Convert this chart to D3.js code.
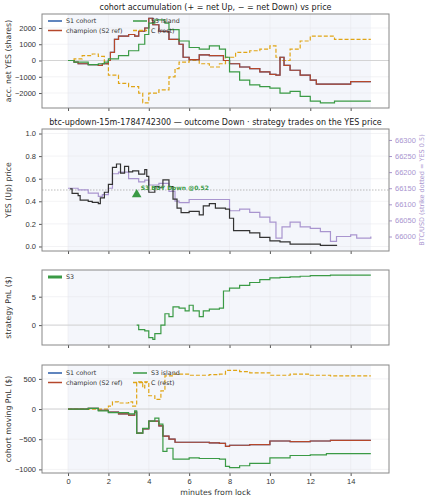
<!DOCTYPE html>
<html><head><meta charset="utf-8">
<script src="https://cdn.jsdelivr.net/npm/d3@7"></script>
<style>body{margin:0;background:#fff;font-family:"DejaVu Sans",sans-serif}</style>
</head><body><div id="chart"></div>
<script>
// ---- data (minutes from lock, value) ----
const accChampion = [[0,0],[0.3,-100],[0.5,-200],[1,-250],[1.5,-300],[1.7,-200],[2,0],[2.1,500],[2.3,1300],[2.5,1500],[3,1600],[3.3,1500],[3.5,1800],[3.8,2000],[4,2600],[4.2,2200],[4.5,1800],[5,1300],[5.5,1000],[5.7,200],[6,50],[6.5,350],[7,300],[7.5,300],[7.7,0],[8,-200],[8.5,-400],[9,-500],[9.5,-700],[10,-850],[10.3,-900],[10.5,200],[10.7,-300],[11,-600],[11.5,-900],[12,-1200],[12.3,-1450],[13,-1450],[14,-1300],[15,-1300]];
const accIsland = [[0,0],[0.3,-100],[1,-250],[1.5,-200],[1.8,-100],[2,100],[2.5,300],[3,600],[3.5,1000],[3.8,1600],[4,2300],[4.3,2500],[4.8,2300],[5,1900],[5.5,1200],[6,800],[6.5,700],[7,900],[7.5,700],[7.8,200],[8,-700],[8.5,-1200],[9,-1500],[9.5,-1600],[10,-1700],[10.5,-2000],[11,-1900],[11.5,-2200],[12,-2500],[12.5,-2600],[13,-2600],[13.2,-2500],[15,-2500]];
const accRest = [[0,0],[0.3,100],[0.7,300],[1.2,400],[1.5,250],[1.8,-200],[2,-900],[2.5,-1400],[3,-1600],[3.5,-2000],[3.7,-2600],[4,-2000],[4.5,-1800],[5,-1000],[5.3,-500],[5.5,-100],[6,0],[6.5,-200],[7,-400],[7.5,-200],[7.8,200],[8.3,500],[9,600],[9.5,700],[10,900],[10.3,200],[10.5,0],[11,700],[11.5,1200],[12,1500],[13,1500],[13.2,1300],[15,1300]];
const yesPrice = [[0.1,0.51],[0.2,0.47],[0.5,0.45],[0.6,0.41],[1,0.40],[1.2,0.39],[1.5,0.38],[1.6,0.43],[1.8,0.48],[2,0.55],[2.2,0.70],[2.4,0.73],[2.6,0.65],[2.8,0.71],[3,0.66],[3.2,0.67],[3.5,0.64],[3.8,0.68],[3.9,0.62],[4,0.48],[4.3,0.53],[4.5,0.52],[4.7,0.59],[5,0.53],[5.2,0.42],[5.4,0.34],[5.6,0.30],[6,0.31],[6.5,0.28],[6.7,0.36],[7,0.38],[7.3,0.34],[7.8,0.33],[8,0.25],[8.2,0.14],[8.5,0.14],[9,0.12],[9.5,0.08],[10,0.05],[10.5,0.04],[11,0.02],[12,0.02],[12.5,0.01],[13.3,0.005]];
const btcPrice = [[0,66150],[0.5,66145],[1,66135],[1.5,66125],[1.7,66130],[2,66150],[2.2,66195],[2.5,66200],[3,66180],[3.5,66170],[3.8,66175],[4,66160],[4.5,66165],[5,66140],[5.3,66110],[5.5,66105],[6,66115],[7,66115],[7.7,66115],[8,66080],[8.5,66085],[9,66075],[9.5,66060],[10,66045],[10.3,65995],[10.6,66030],[11,66045],[11.5,66030],[12,66025],[12.5,66015],[13,65985],[13.3,66000],[14,66005],[14.3,65995],[15,66000]];
const trade = {t:3.4, price:0.46, label:"S3 BUY Down @0.52"};
const s3Pnl = [[3.4,0],[3.5,-0.8],[3.8,-1],[4,-2.2],[4.2,-2.5],[4.3,-1.5],[4.5,-1.5],[4.6,0],[4.8,2],[5,1.5],[5.2,3.2],[5.5,3],[5.8,2.5],[6,3.5],[6.2,2.5],[6.5,1.5],[6.7,2.5],[7,2.8],[7.5,3],[7.7,6],[8,6.5],[8.5,7],[9,7.5],[9.5,8],[10,8.3],[10.5,8.4],[11,8.5],[11.5,8.6],[12,8.7],[13,8.8],[15,8.8]];
const pnlChampion = [[0,0],[1,10],[1.5,-20],[2,-50],[2.5,-80],[3,-100],[3.3,-50],[3.4,-400],[3.7,-330],[4,-200],[4.3,-200],[4.5,-280],[4.7,-450],[5,-500],[5.3,-550],[6,-550],[7,-560],[7.5,-570],[7.8,-620],[8,-600],[9,-590],[10,-530],[11,-540],[12,-530],[13,-520],[15,-520]];
const pnlIsland = [[0,0],[1,10],[1.5,-30],[2,-60],[3,-80],[3.3,-30],[3.4,-400],[3.7,-320],[4,-200],[4.3,-150],[4.5,-250],[4.7,-700],[4.9,-650],[5.2,-830],[6,-810],[6.5,-820],[7.5,-830],[7.8,-950],[8,-970],[8.5,-940],[9,-900],[10,-810],[11,-770],[12,-760],[12.8,-740],[15,-740]];
const pnlRest = [[0,0],[1,0],[1.5,0],[2,50],[2.2,120],[2.5,100],[3,120],[3.2,50],[3.4,450],[3.7,350],[3.8,450],[4,220],[4.3,160],[4.6,300],[4.8,550],[5.2,580],[6,560],[7,570],[7.5,580],[7.8,640],[8.5,620],[9,600],[10,560],[11,580],[12,560],[13,550],[15,550]];
const xTicks = [0,2,4,6,8,10,12,14];

const C = {s1:"#2b5ca8", champ:"#b5472b", island:"#3a9a45", rest:"#e0a516", btc:"#a995cf"};
const W = 429, H = 500, L = 42, R = 389;
const svg = d3.select("#chart").append("svg").attr("width", W).attr("height", H);
const x = d3.scaleLinear().domain([-1.29, 15.9]).range([L, R]);

function panel(top, bottom, ydom, yticks, yfmt, ylabel, title, showX) {
  const y = d3.scaleLinear().domain(ydom).range([bottom, top]);
  const g = svg.append("g");
  g.append("rect").attr("x", x(0)).attr("width", x(15) - x(0)).attr("y", top).attr("height", bottom - top).attr("fill", "#f4f6fb");
  g.selectAll(".vg").data(xTicks).enter().append("line").attr("x1", d => x(d)).attr("x2", d => x(d)).attr("y1", top).attr("y2", bottom).attr("stroke", "#e6e6ea").attr("stroke-width", 0.5);
  g.selectAll(".hg").data(yticks).enter().append("line").attr("x1", L).attr("x2", R).attr("y1", d => y(d)).attr("y2", d => y(d)).attr("stroke", "#e6e6ea").attr("stroke-width", 0.5);
  const ya = g.append("g").attr("transform", `translate(${L},0)`).call(d3.axisLeft(y).tickValues(yticks).tickSize(3).tickFormat(yfmt));
  const xa = g.append("g").attr("transform", `translate(0,${bottom})`).call(d3.axisBottom(x).tickValues(xTicks).tickSize(3).tickFormat(showX ? d3.format("d") : () => ""));
  [ya, xa].forEach(a => { a.select(".domain").remove(); a.selectAll("text").attr("font-size", 7.5).attr("fill", "#333"); a.selectAll("line").attr("stroke", "#555"); });
  g.append("text").attr("transform", `translate(11,${(top + bottom) / 2}) rotate(-90)`).attr("text-anchor", "middle").attr("font-size", 7.8).attr("fill", "#333").text(ylabel);
  if (title) g.append("text").attr("x", (L + R) / 2).attr("y", top - 4).attr("text-anchor", "middle").attr("font-size", 8).attr("fill", "#222").text(title);
  return {g, y, top, bottom};
}
const minus = d => String(d).replace("-", "−");
function frame(p) {
  p.g.append("rect").attr("x", L).attr("y", p.top).attr("width", R - L).attr("height", p.bottom - p.top).attr("fill", "none").attr("stroke", "#888").attr("stroke-width", 1);
}
function zero(p) {
  p.g.append("line").attr("x1", L).attr("x2", R).attr("y1", p.y(0)).attr("y2", p.y(0)).attr("stroke", "#ccc").attr("stroke-width", 0.8);
}
function series(p, data, color, dash, yScale) {
  const ys = yScale || p.y;
  p.g.append("path").datum(data).attr("fill", "none").attr("stroke", color).attr("stroke-width", 1.2)
    .attr("stroke-dasharray", dash ? "4,2" : null)
    .attr("d", d3.line().curve(d3.curveStepAfter).x(d => x(d[0])).y(d => ys(d[1])));
}
function legend(p, lx, ly) {
  const items = [["S1 cohort", C.s1, false], ["champion (S2 ref)", C.champ, false], ["S3 island", C.island, false], ["C (rest)", C.rest, true]];
  items.forEach((it, i) => {
    const cx = lx + (i >= 2 ? 85 : 0), cy = ly + (i % 2) * 9.5;
    p.g.append("line").attr("x1", cx).attr("x2", cx + 14).attr("y1", cy).attr("y2", cy).attr("stroke", it[1]).attr("stroke-width", 1.5).attr("stroke-dasharray", it[2] ? "4,2" : null);
    p.g.append("text").attr("x", cx + 18).attr("y", cy + 2.3).attr("font-size", 6.3).attr("fill", "#333").text(it[0]);
  });
}

// panel 1
const p1 = panel(14, 108, [-2920, 2860], [-2000, -1000, 0, 1000, 2000], minus, "acc. net YES (shares)", "cohort accumulation (+ = net Up, − = net Down) vs price", false);
zero(p1);
series(p1, accRest, C.rest, true);
series(p1, accChampion, C.s1, false);
series(p1, accChampion, C.champ, false);
series(p1, accIsland, C.island, false);
legend(p1, 48, 21);
frame(p1);

// panel 2
const p2 = panel(129, 251, [-0.04, 1.04], [0, 0.2, 0.4, 0.6, 0.8, 1.0], d3.format(".1f"), "YES (Up) price", "btc-updown-15m-1784742300 — outcome Down · strategy trades on the YES price", false);
const yb = d3.scaleLinear().domain([65955, 66334]).range([251, 129]);
const ra = p2.g.append("g").attr("transform", `translate(${R},0)`).call(d3.axisRight(yb).tickValues([66000, 66050, 66100, 66150, 66200, 66250, 66300]).tickSize(3).tickFormat(d3.format("d")));
ra.select(".domain").remove(); ra.selectAll("text").attr("font-size", 7.5).attr("fill", C.btc); ra.selectAll("line").attr("stroke", C.btc);
p2.g.append("text").attr("transform", `translate(424,190) rotate(-90)`).attr("text-anchor", "middle").attr("font-size", 6.5).attr("fill", C.btc).text("BTC/USD (strike dotted = YES 0.5)");
p2.g.append("line").attr("x1", L).attr("x2", R).attr("y1", p2.y(0.5)).attr("y2", p2.y(0.5)).attr("stroke", "#aaa").attr("stroke-width", 0.8).attr("stroke-dasharray", "1.5,1.5");
series(p2, btcPrice, C.btc, false, yb);
series(p2, yesPrice, "#333", false);
p2.g.append("path").attr("d", d3.symbol(d3.symbolTriangle, 40)()).attr("transform", `translate(${x(trade.t)},${p2.y(trade.price)})`).attr("fill", C.island);
p2.g.append("text").attr("x", x(trade.t) + 4).attr("y", p2.y(0.52) + 2).attr("font-size", 6).attr("font-weight", "bold").attr("fill", C.island).text(trade.label);
frame(p2);

// panel 3
const p3 = panel(270, 345, [-3.5, 9.7], [0, 5], d3.format("d"), "strategy PnL ($)", null, false);
zero(p3);
series(p3, s3Pnl, C.island, false);
p3.g.append("line").attr("x1", 48).attr("x2", 62).attr("y1", 277).attr("y2", 277).attr("stroke", C.island).attr("stroke-width", 3);
p3.g.append("text").attr("x", 66).attr("y", 279.3).attr("font-size", 6.3).attr("fill", "#333").text("S3");
frame(p3);

// panel 4
const p4 = panel(365, 473, [-1060, 730], [-1000, -500, 0, 500], minus, "cohort moving PnL ($)", null, true);
zero(p4);
series(p4, pnlRest, C.rest, true);
series(p4, pnlChampion, C.s1, false);
series(p4, pnlChampion, C.champ, false);
series(p4, pnlIsland, C.island, false);
legend(p4, 48, 373);
frame(p4);
svg.append("text").attr("x", (L + R) / 2).attr("y", 495).attr("text-anchor", "middle").attr("font-size", 7.8).attr("fill", "#333").text("minutes from lock");
</script></body></html>
